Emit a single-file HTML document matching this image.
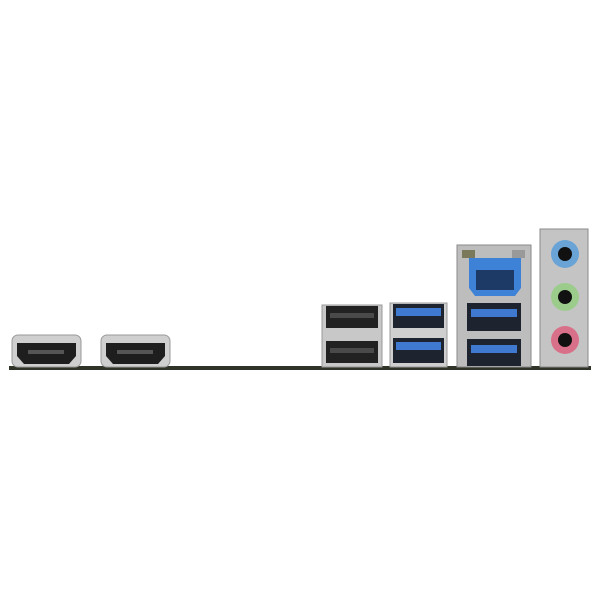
<!DOCTYPE html>
<html><head><meta charset="utf-8"><style>html,body{margin:0;padding:0;background:#fff}svg{display:block}</style></head>
<body>
<svg width="600" height="600" viewBox="0 0 600 600" xmlns="http://www.w3.org/2000/svg">
<rect width="600" height="600" fill="#fff"/>
<!-- board -->
<rect x="9" y="366" width="582" height="4" fill="#2f3328"/>
<!-- HDMI -->
<g>
<rect x="12" y="335" width="69" height="32" rx="6" fill="#cfcfcf" stroke="#999"/>
<path d="M17 343 h59 v13 l-7 8 h-45 l-7 -8 z" fill="#1e1e1e"/>
<rect x="28" y="350" width="36" height="4" fill="#555"/>
<rect x="101" y="335" width="69" height="32" rx="6" fill="#cfcfcf" stroke="#999"/>
<path d="M106 343 h59 v13 l-7 8 h-45 l-7 -8 z" fill="#1e1e1e"/>
<rect x="117" y="350" width="36" height="4" fill="#555"/>
</g>
<!-- USB 2 stack -->
<rect x="322" y="305" width="60" height="62" fill="#c8c8c8" stroke="#999"/>
<rect x="326" y="306" width="52" height="22" fill="#222"/>
<rect x="326" y="341" width="52" height="22" fill="#222"/>
<rect x="330" y="313" width="44" height="5" fill="#4a4a4a"/>
<rect x="330" y="348" width="44" height="5" fill="#4a4a4a"/>
<!-- USB 3 stack -->
<rect x="390" y="303" width="57" height="64" fill="#cfcfcf" stroke="#999"/>
<rect x="393" y="304" width="51" height="24" fill="#1e2330"/>
<rect x="396" y="308" width="45" height="8" fill="#3f7ad0"/>
<rect x="393" y="338" width="51" height="25" fill="#1e2330"/>
<rect x="396" y="342" width="45" height="8" fill="#3f7ad0"/>
<!-- LAN+USB block -->
<rect x="457" y="245" width="74" height="122" fill="#bdbdbd" stroke="#8a8a8a"/>
<rect x="462" y="250" width="13" height="8" fill="#7a7a5a"/>
<rect x="512" y="250" width="13" height="8" fill="#999"/>
<path d="M469 258 h52 v30 l-6 8 h-40 l-6 -8 z" fill="#3d82d6"/>
<rect x="476" y="270" width="38" height="20" fill="#1d3a66"/>
<rect x="467" y="303" width="54" height="28" fill="#1e2330"/>
<rect x="471" y="309" width="46" height="8" fill="#3f7ad0"/>
<rect x="467" y="339" width="54" height="27" fill="#1e2330"/>
<rect x="471" y="345" width="46" height="8" fill="#3f7ad0"/>
<!-- audio -->
<rect x="540" y="229" width="48" height="138" fill="#c4c4c4" stroke="#8a8a8a"/>
<circle cx="565" cy="254" r="14" fill="#6aa3d6"/><circle cx="565" cy="254" r="7" fill="#111"/>
<circle cx="565" cy="297" r="14" fill="#9ccc8c"/><circle cx="565" cy="297" r="7" fill="#111"/>
<circle cx="565" cy="340" r="14" fill="#d8708a"/><circle cx="565" cy="340" r="7" fill="#111"/>
</svg>
</body></html>
